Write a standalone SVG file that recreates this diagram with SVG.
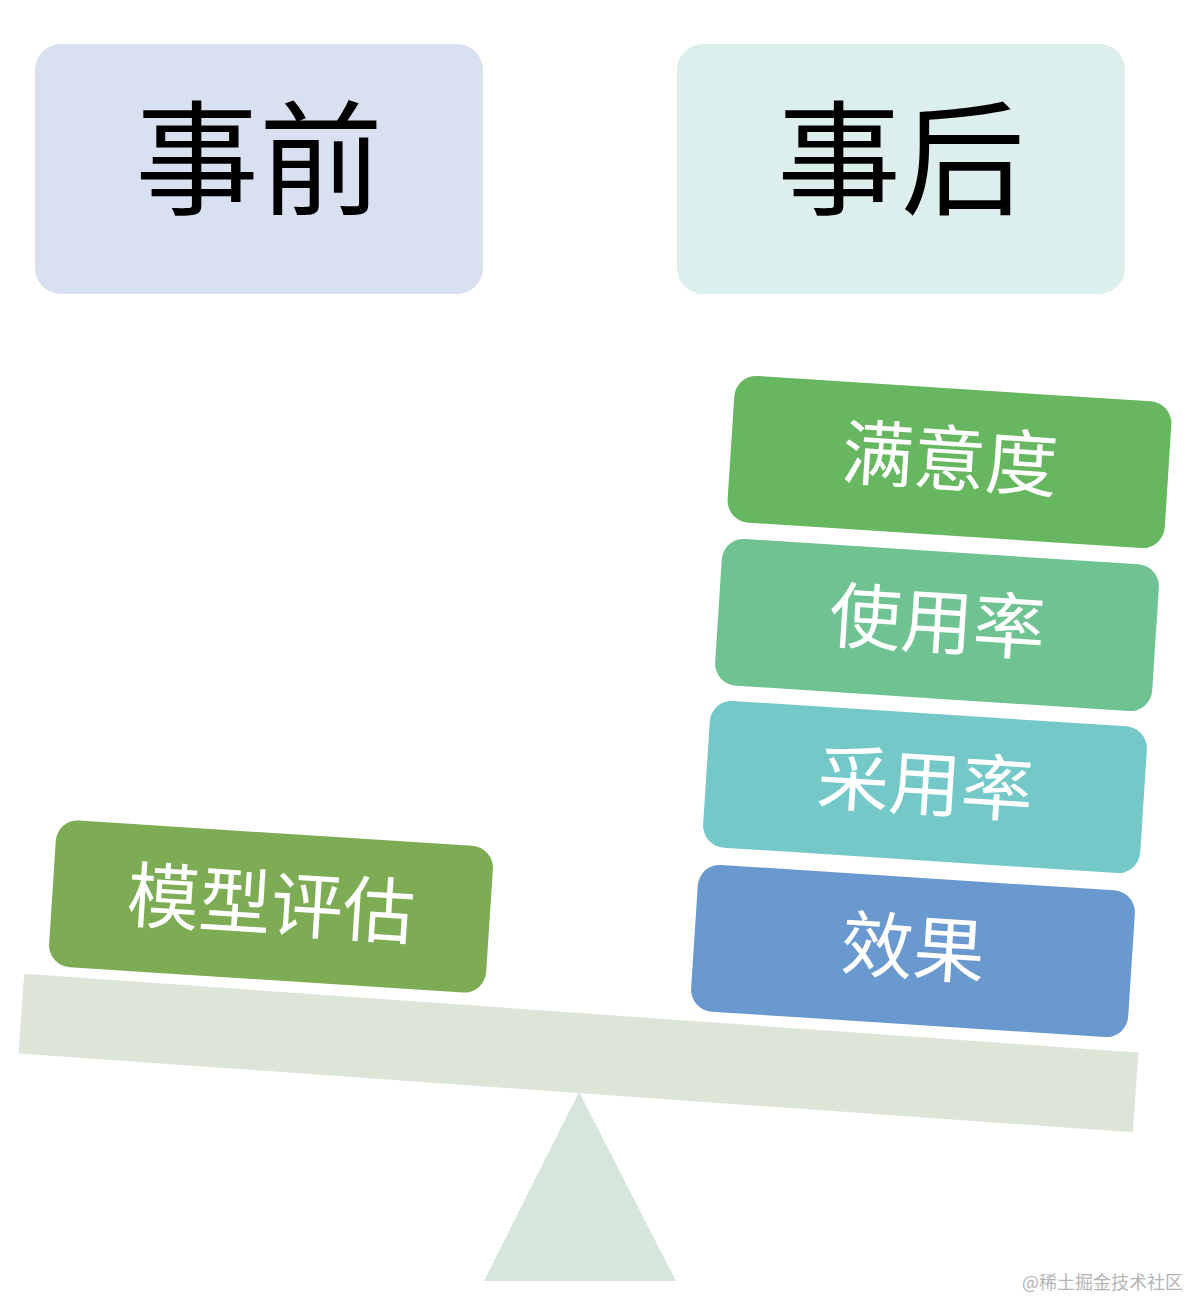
<svg xmlns="http://www.w3.org/2000/svg" width="1190" height="1300" viewBox="0 0 1190 1300">
<style>
.top{font-family:"Noto Sans CJK SC","Noto Sans",sans-serif;font-size:124px;fill:#000;text-anchor:middle}
.lbl{font-family:"Noto Sans CJK SC","Noto Sans",sans-serif;font-size:72px;fill:#fff;text-anchor:middle}
.wm{font-family:"Noto Sans CJK SC","Noto Sans",sans-serif;font-size:18px;fill:#b4b4b4}
</style>
<rect width="1190" height="1300" fill="#fff"/>
<g id="before">
<rect x="35" y="44" width="448" height="250" rx="26" fill="#d9e1f0"/>
<text class="top" x="259" y="205">事前</text>
</g>
<g id="after">
<rect x="677" y="44" width="448" height="250" rx="26" fill="#dcefec"/>
<text class="top" x="901" y="205">事后</text>
</g>
<g id="fulcrum">
<polygon points="579,1092 676,1281 484,1281" fill="#d6e6da"/>
</g>
<g id="beam">
<rect x="20" y="1013" width="1117" height="80" fill="#dde5d8" transform="rotate(4.05 578.5 1053)"/>
</g>
<g id="model-eval" transform="rotate(3.7 271 906.5)">
<rect x="52" y="833" width="438" height="147" rx="22" fill="#7eac55"/>
<text class="lbl" x="271" y="930">模型评估</text>
</g>
<g id="satisfaction" transform="rotate(3.7 949.5 462)">
<rect x="730.5" y="388.5" width="438" height="147" rx="22" fill="#66b75f"/>
<text class="lbl" x="949.5" y="485">满意度</text>
</g>
<g id="usage" transform="rotate(3.7 937 625)">
<rect x="718" y="551.5" width="438" height="147" rx="22" fill="#6fc393"/>
<text class="lbl" x="937" y="648">使用率</text>
</g>
<g id="adoption" transform="rotate(3.7 925 787)">
<rect x="706" y="713.5" width="438" height="147" rx="22" fill="#74c8c8"/>
<text class="lbl" x="925" y="810">采用率</text>
</g>
<g id="effect" transform="rotate(3.7 913 951)">
<rect x="694" y="877.5" width="438" height="147" rx="22" fill="#6a99cf"/>
<text class="lbl" x="913" y="974">效果</text>
</g>
<g id="connectors"></g>
<text class="wm" x="1022" y="1289">@稀土掘金技术社区</text>
</svg>
